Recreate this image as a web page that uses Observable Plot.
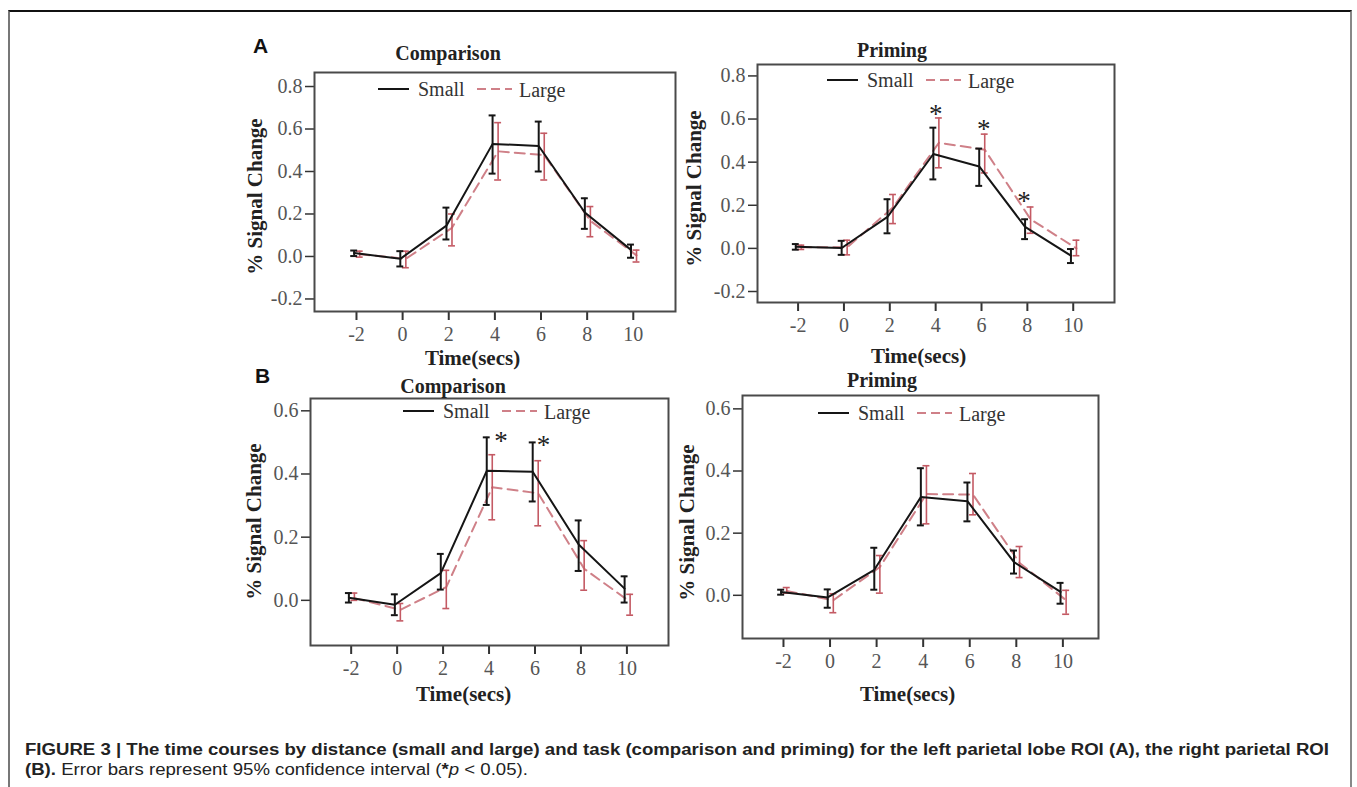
<!DOCTYPE html>
<html><head><meta charset="utf-8">
<script src="https://cdn.jsdelivr.net/npm/d3@7"></script>
<script src="https://cdn.jsdelivr.net/npm/@observablehq/plot@0.6"></script>
<style>
body{margin:0;background:#fff;}
#page{position:relative;width:1357px;height:787px;overflow:hidden;background:#fff;}
#border{position:absolute;left:8px;top:10px;width:1340px;height:820px;border-top:2px solid #111;border-left:2px solid #777;border-right:2px solid #888;}
.plotbox{position:absolute;}
.cap{position:absolute;left:25px;font-family:"Liberation Sans",Arial,sans-serif;font-size:16px;line-height:18px;color:#222;white-space:nowrap;transform-origin:0 50%;}
#overlay{position:absolute;left:0;top:0;pointer-events:none;}
</style></head><body><div id="page"><div id="border"></div></div>
<script>
// ---------------- data ----------------
const times = [-2, 0, 2, 4, 6, 8, 10];
const xTickLabels = ["-2", "0", "2", "4", "6", "8", "10"];
const yTicksA = [-0.2, 0.0, 0.2, 0.4, 0.6, 0.8];
const yTicksB = [0.0, 0.2, 0.4, 0.6];
const seriesNames = ["Small", "Large"];
const titles = ["Comparison", "Priming", "Comparison", "Priming"];

// (A) left parietal, Comparison
const aCompSmall   = [0.016, -0.011, 0.145, 0.530, 0.520, 0.207, 0.031];
const aCompSmallLo = [0.002, -0.047, 0.080, 0.390, 0.400, 0.130, -0.006];
const aCompSmallHi = [0.028, 0.025, 0.230, 0.664, 0.635, 0.274, 0.056];
const aCompLarge   = [0.011, -0.011, 0.135, 0.495, 0.477, 0.168, 0.005];
const aCompLargeLo = [-0.003, -0.053, 0.050, 0.360, 0.360, 0.093, -0.026];
const aCompLargeHi = [0.025, 0.025, 0.200, 0.630, 0.580, 0.235, 0.030];
const aCompStarsX = [];
const aCompStarsY = [];

// (A) left parietal, Priming
const aPrimSmall   = [0.008, 0.002, 0.146, 0.438, 0.380, 0.100, -0.034];
const aPrimSmallLo = [-0.006, -0.030, 0.070, 0.320, 0.290, 0.043, -0.068];
const aPrimSmallHi = [0.020, 0.035, 0.228, 0.560, 0.463, 0.135, -0.003];
const aPrimLarge   = [0.005, 0.005, 0.190, 0.490, 0.458, 0.135, 0.000];
const aPrimLargeLo = [-0.005, -0.030, 0.115, 0.374, 0.350, 0.070, -0.034];
const aPrimLargeHi = [0.015, 0.038, 0.250, 0.605, 0.530, 0.192, 0.038];
const aPrimStarsX = [4.0, 6.1, 7.85];
const aPrimStarsY = [0.643, 0.574, 0.243];

// (B) right parietal, Comparison
const bCompSmall   = [0.008, -0.014, 0.086, 0.410, 0.407, 0.177, 0.037];
const bCompSmallLo = [-0.007, -0.047, 0.034, 0.302, 0.313, 0.093, -0.007];
const bCompSmallHi = [0.023, 0.019, 0.147, 0.516, 0.500, 0.253, 0.076];
const bCompLarge   = [0.007, -0.030, 0.042, 0.358, 0.339, 0.100, -0.005];
const bCompLargeLo = [0.000, -0.065, -0.026, 0.255, 0.236, 0.032, -0.047];
const bCompLargeHi = [0.023, -0.010, 0.095, 0.461, 0.442, 0.189, 0.019];
const bCompStarsX = [4.52, 6.37];
const bCompStarsY = [0.519, 0.508];

// (B) right parietal, Priming
const bPrimSmall   = [0.011, -0.007, 0.082, 0.316, 0.303, 0.107, 0.011];
const bPrimSmallLo = [0.002, -0.040, 0.018, 0.225, 0.238, 0.070, -0.027];
const bPrimSmallHi = [0.018, 0.019, 0.153, 0.409, 0.363, 0.144, 0.040];
const bPrimLarge   = [0.014, -0.016, 0.091, 0.326, 0.324, 0.104, -0.016];
const bPrimLargeLo = [0.007, -0.056, 0.007, 0.230, 0.259, 0.057, -0.061];
const bPrimLargeHi = [0.025, 0.005, 0.128, 0.417, 0.392, 0.157, 0.016];
const bPrimStarsX = [];
const bPrimStarsY = [];

const captionLine1 = "FIGURE 3 | The time courses by distance (small and large) and task (comparison and priming) for the left parietal lobe ROI (A), the right parietal ROI";

// ---------------- styling / layout ----------------
const SMALL_DX = -0.1, LARGE_DX = 0.14, CAP = 0.15;
const BLACK = "#151515", RED_BAR = "#c45a64", RED_LINE = "#cf8088";
const SERIF = "'Liberation Serif', 'Times New Roman', serif";

const panels = [
  {frame:{l:314,r:675,t:72,b:311}, xDomain:[-3.82,11.83], yDomain:[-0.259,0.866], yTicks:yTicksA,
   s:[aCompSmall,aCompSmallLo,aCompSmallHi], g:[aCompLarge,aCompLargeLo,aCompLargeHi], stars:[aCompStarsX,aCompStarsY],
   ylab:{x:255,y:196}, xlab:{x:472,y:364}, title:{x:448,y:60}, leg:{x:378,y:89}},
  {frame:{l:757,r:1114,t:64,b:302}, xDomain:[-3.77,11.8], yDomain:[-0.251,0.853], yTicks:yTicksA,
   s:[aPrimSmall,aPrimSmallLo,aPrimSmallHi], g:[aPrimLarge,aPrimLargeLo,aPrimLargeHi], stars:[aPrimStarsX,aPrimStarsY],
   ylab:{x:694,y:188}, xlab:{x:918,y:362}, title:{x:892,y:57}, leg:{x:827,y:80}},
  {frame:{l:310,r:668,t:398,b:645}, xDomain:[-3.77,11.81], yDomain:[-0.143,0.639], yTicks:yTicksB,
   s:[bCompSmall,bCompSmallLo,bCompSmallHi], g:[bCompLarge,bCompLargeLo,bCompLargeHi], stars:[bCompStarsX,bCompStarsY],
   ylab:{x:254,y:521}, xlab:{x:463,y:700}, title:{x:453,y:393}, leg:{x:403,y:411}},
  {frame:{l:742,r:1098,t:395,b:638}, xDomain:[-3.76,11.53], yDomain:[-0.139,0.643], yTicks:yTicksB,
   s:[bPrimSmall,bPrimSmallLo,bPrimSmallHi], g:[bPrimLarge,bPrimLargeLo,bPrimLargeHi], stars:[bPrimStarsX,bPrimStarsY],
   ylab:{x:687,y:522}, xlab:{x:907,y:700}, title:{x:882,y:387}, leg:{x:818,y:413}}
];

const page = document.getElementById("page");
const ML = 100, MR = 10, MT = 10, MB = 80;

panels.forEach((p) => {
  const f = p.frame;
  const W = f.r - f.l + ML + MR, H = f.b - f.t + MT + MB;
  const toRows = (arr, dx) => times.map((t, i) => ({x: t + dx, y: arr[0][i], lo: arr[1][i], hi: arr[2][i]}));
  const S = toRows(p.s, SMALL_DX), L = toRows(p.g, LARGE_DX);
  const stars = p.stars[0].map((x, i) => ({x, y: p.stars[1][i]}));
  const cx = (f.l + f.r) / 2, cy = (f.t + f.b) / 2;
  const chart = Plot.plot({
    width: W, height: H, marginLeft: ML, marginRight: MR, marginTop: MT, marginBottom: MB,
    x: {domain: p.xDomain}, y: {domain: p.yDomain},
    style: {fontFamily: SERIF, fontSize: "20px", background: "transparent", overflow: "visible"},
    marks: [
      Plot.axisY({ticks: p.yTicks, tickSize: 9, tickPadding: 3, tickFormat: d => d.toFixed(1), label: null,
                  fontSize: 20, fill: "#555", stroke: "#333", strokeWidth: 1.5}),
      Plot.axisX({ticks: times, tickSize: 9, tickPadding: 6, tickFormat: d => xTickLabels[times.indexOf(d)], label: null,
                  fontSize: 20, fill: "#555", stroke: "#333", strokeWidth: 2}),
      Plot.line(L, {x: "x", y: "y", stroke: RED_LINE, strokeWidth: 2, strokeDasharray: "10,6"}),
      Plot.ruleX(L, {x: "x", y1: "lo", y2: "hi", stroke: RED_BAR, strokeWidth: 1.6}),
      Plot.ruleY(L, {y: "hi", x1: d => d.x - CAP, x2: d => d.x + CAP, stroke: RED_BAR, strokeWidth: 1.6}),
      Plot.ruleY(L, {y: "lo", x1: d => d.x - CAP, x2: d => d.x + CAP, stroke: RED_BAR, strokeWidth: 1.6}),
      Plot.line(S, {x: "x", y: "y", stroke: BLACK, strokeWidth: 2}),
      Plot.ruleX(S, {x: "x", y1: "lo", y2: "hi", stroke: BLACK, strokeWidth: 2}),
      Plot.ruleY(S, {y: "hi", x1: d => d.x - CAP, x2: d => d.x + CAP, stroke: BLACK, strokeWidth: 2}),
      Plot.ruleY(S, {y: "lo", x1: d => d.x - CAP, x2: d => d.x + CAP, stroke: BLACK, strokeWidth: 2}),
      Plot.text(stars, {x: "x", y: "y", text: () => "*", fontSize: 27, fill: "#222", dy: 5}),
      Plot.frame({stroke: "#4a4a4a", strokeWidth: 2}),
      Plot.text(["% Signal Change"], {text: d => d, frameAnchor: "left", textAnchor: "middle", lineAnchor: "middle",
                 rotate: -90, dx: p.ylab.x - f.l, dy: p.ylab.y - cy, fontWeight: "bold", fontSize: 21, fill: "#222"}),
      Plot.text(["Time(secs)"], {text: d => d, frameAnchor: "bottom", textAnchor: "middle", lineAnchor: "bottom",
                 dx: p.xlab.x - cx, dy: p.xlab.y - f.b, fontWeight: "bold", fontSize: 21, fill: "#222"})
    ]
  });
  const box = document.createElement("div");
  box.className = "plotbox";
  box.style.left = (f.l - ML) + "px";
  box.style.top = (f.t - MT) + "px";
  box.appendChild(chart);
  page.appendChild(box);
});

// overlay: titles, legends, panel letters
const svg = d3.select(page).append("svg").attr("id", "overlay").attr("width", 1357).attr("height", 787);
panels.forEach((p, i) => {
  svg.append("text").attr("x", p.title.x).attr("y", p.title.y).attr("text-anchor", "middle")
    .attr("font-family", SERIF).attr("font-weight", "bold").attr("font-size", 20).attr("fill", "#222").text(titles[i]);
  const lg = p.leg;
  svg.append("line").attr("x1", lg.x).attr("x2", lg.x + 31).attr("y1", lg.y).attr("y2", lg.y)
    .attr("stroke", BLACK).attr("stroke-width", 2);
  svg.append("text").attr("x", lg.x + 40).attr("y", lg.y + 7).attr("font-family", SERIF).attr("font-size", 20)
    .attr("fill", "#333").text(seriesNames[0]);
  svg.append("line").attr("x1", lg.x + 99).attr("x2", lg.x + 134).attr("y1", lg.y).attr("y2", lg.y)
    .attr("stroke", RED_LINE).attr("stroke-width", 2).attr("stroke-dasharray", "9,5");
  svg.append("text").attr("x", lg.x + 141).attr("y", lg.y + 8).attr("font-family", SERIF).attr("font-size", 20)
    .attr("fill", "#333").text(seriesNames[1]);
});
svg.append("text").attr("x", 253).attr("y", 53).attr("font-family", "'Liberation Sans', Arial, sans-serif")
  .attr("font-weight", "bold").attr("font-size", 21).attr("fill", "#111").text("A");
svg.append("text").attr("x", 255).attr("y", 383).attr("font-family", "'Liberation Sans', Arial, sans-serif")
  .attr("font-weight", "bold").attr("font-size", 21).attr("fill", "#111").text("B");

// caption
const c1 = document.createElement("div");
c1.className = "cap"; c1.style.top = "741px"; c1.style.fontWeight = "bold";
c1.textContent = captionLine1;
page.appendChild(c1);
const c2 = document.createElement("div");
c2.className = "cap"; c2.style.top = "761px";
c2.innerHTML = "<b>(B).</b> Error bars represent 95% confidence interval (<b>*</b><i>p</i> &lt; 0.05).";
page.appendChild(c2);
const target = 1329 - 25;
const w1 = c1.getBoundingClientRect().width;
const sc = target / w1;
c1.style.transform = `scaleX(${sc})`;
c2.style.transform = `scaleX(${sc})`;
</script></body></html>
